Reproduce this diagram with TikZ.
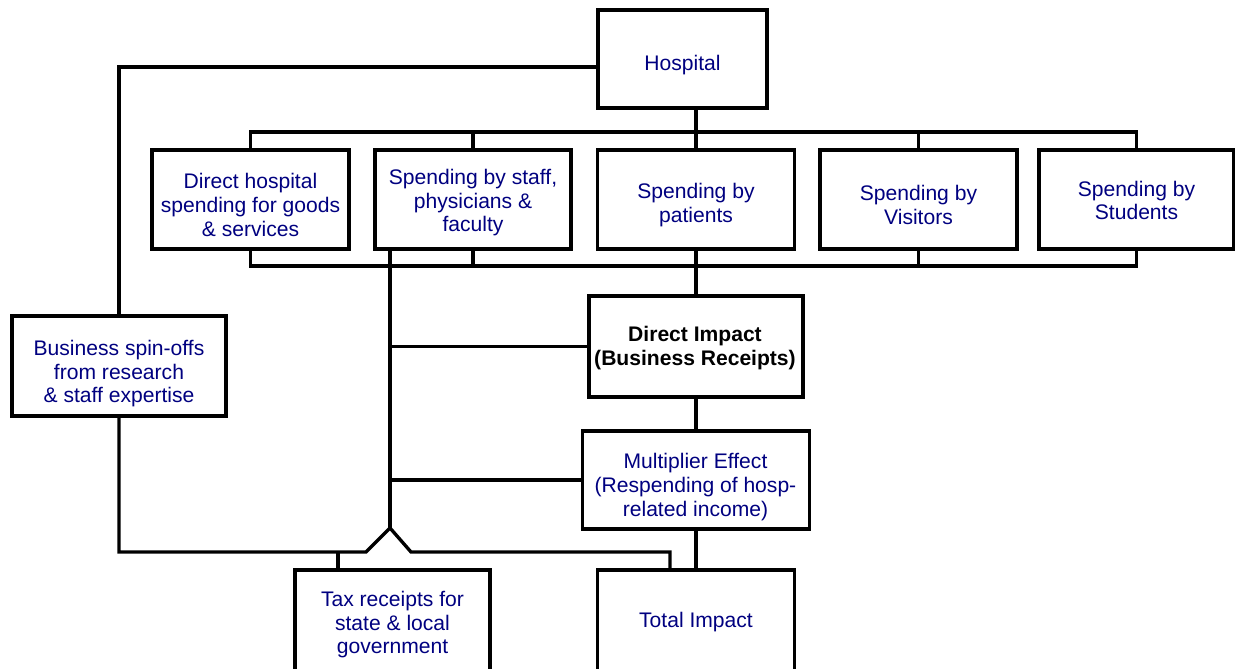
\documentclass[tikz,border=0pt]{standalone}
\usepackage{fontspec}
\setmainfont{Liberation Sans}
\definecolor{navy}{RGB}{0,0,128}
\tikzset{
 box/.style={draw, line width=1.9pt, inner sep=0pt, fill=white},
 txt/.style={text=navy, align=center, font=\fontsize{12}{13.4}\selectfont, inner sep=0pt},
 ln/.style={line width=1.9pt},
}
\begin{document}
\begin{tikzpicture}[x=0.02cm,y=-0.02cm]
\useasboundingbox (0,0) rectangle (1235,669);
\clip (0,0) rectangle (1235,669);
% boxes
\node[box, minimum width=3.38cm, minimum height=1.96cm] (hosp) at (682.5,59) {};
\node[box, minimum width=3.94cm, minimum height=1.98cm] (b1) at (250.5,199.5) {};
\node[box, minimum width=3.92cm, minimum height=1.98cm] (b2) at (473,199.5) {};
\node[box, minimum width=3.94cm, minimum height=1.98cm] (b3) at (696,199.5) {};
\node[box, minimum width=3.94cm, minimum height=1.98cm] (b4) at (918.5,199.5) {};
\node[box, minimum width=3.90cm, minimum height=1.98cm] (b5) at (1136.5,199.5) {};
\node[box, minimum width=4.28cm, minimum height=2.02cm] (di) at (696,346.5) {};
\node[box, minimum width=4.54cm, minimum height=1.96cm] (mult) at (696,480) {};
\node[box, minimum width=4.28cm, minimum height=2.00cm] (spin) at (119,366) {};
\node[box, minimum width=3.90cm, minimum height=2.20cm] (tax) at (392.5,625) {};
\node[box, minimum width=3.94cm, minimum height=2.20cm] (total) at (696,625) {};
% coordinates
\coordinate (tb) at (0,132);
\coordinate (bb) at (0,266);
\coordinate (jn) at (390,528);
\coordinate (jl) at (366,552);
\coordinate (jr) at (411,552);
% top bus
\draw[ln] (b1.north) -- (b1.north |- tb) -- (b5.north |- tb) -- (b5.north);
\draw[ln] (b2.north) -- (b2.north |- tb);
\draw[ln] (b4.north) -- (b4.north |- tb);
\draw[ln] (b3.north |- hosp.south) -- (b3.north);
% bottom bus
\draw[ln] (b1.south) -- (b1.south |- bb) -- (b5.south |- bb) -- (b5.south);
\draw[ln] (b2.south) -- (b2.south |- bb);
\draw[ln] (b4.south) -- (b4.south |- bb);
\draw[ln] (b3.south) -- (b3.south |- di.north);
% staff line
\draw[ln] (jn |- b2.south) -- (jn);
\draw[ln] (jn |- di.west) -- (di.west);
\draw[ln] (jn |- mult.west) -- (mult.west);
\draw[ln] (di.south) -- (mult.north);
\draw[ln] (mult.south) -- (mult.south |- total.north);
% junction
\draw[ln] (spin.south) |- (jl) -- (jn) -- (jr) -| ([xshift=-0.52cm]total.north);
\draw[ln] ([xshift=-1.09cm]tax.north) -- ([xshift=-1.09cm]tax.north |- jl);
% spin-off to hospital
\draw[ln] (spin.north) |- ([yshift=-0.16cm]hosp.west);
% texts
\node[txt] (th) at (682.5,65) {Hospital};
\node[txt] (t1) at (250.5,205) {Direct hospital\\spending for goods\\\& services};
\node[txt] (t2) at (473,203) {Spending by staff,\\physicians \&\\faculty};
\node[txt] (t3) at (696,205) {Spending by\\patients};
\node[txt] (t4) at (918.5,205) {Spending by\\Visitors};
\node[txt] (t5) at (1136.5,200.5) {Spending by\\Students};
\node[txt, text=black, font=\fontsize{12}{13.4}\selectfont\bfseries] (tdi) at (695,348) {Direct Impact\\(Business Receipts)};
\node[txt] (tm) at (695.5,487) {Multiplier Effect\\(Respending of hosp-\\related income)};
\node[txt] (tsp) at (119,374) {Business spin-offs\\from research\\\& staff expertise};
\node[txt] (ttax) at (392.5,625) {Tax receipts for\\state \& local\\government};
\node[txt] (ttot) at (696,622) {Total Impact};
\end{tikzpicture}
\end{document}
